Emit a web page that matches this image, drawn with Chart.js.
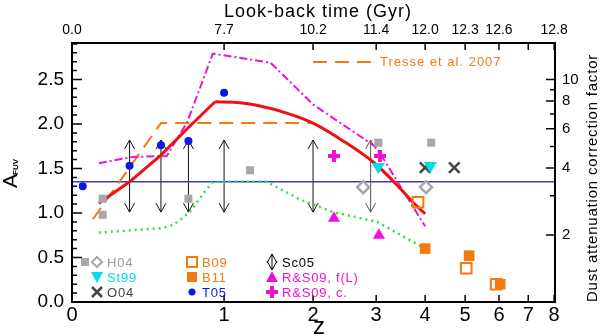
<!DOCTYPE html>
<html>
<head>
<meta charset="utf-8">
<script src="https://cdn.jsdelivr.net/npm/chart.js@4.4.0/dist/chart.umd.min.js"></script>
<style>
  html, body { margin: 0; padding: 0; background: #fff; }
  #contenedor { width: 600px; height: 336px; }
</style>
</head>
<body>
<div id="contenedor"><canvas id="grafico" width="600" height="336"></canvas></div>
<script>
// Ejes
const zTicks = [0, 1, 2, 3, 4, 5, 6, 7, 8];
const lookbackLabels = ['0.0', '7.7', '10.2', '11.4', '12.0', '12.3', '12.6', '', '12.8'];
const aTicks = [0, 0.5, 1.0, 1.5, 2.0, 2.5];
const factorTicks = [2, 4, 6, 8, 10];
const factorMinor = [1, 3, 5, 7, 9];

// Ajuste (linea roja): tramo que sube y tramo que baja
const subidaZ = [0.13, 0.3, 0.5, 0.7, 0.92];
const subidaA = [1.11, 1.35, 1.65, 1.96, 2.25];
const bajadaZ = [0.92, 1.15, 1.32, 1.67, 2.0, 2.44, 2.95, 3.32, 3.73, 4.0];
const bajadaA = [2.25, 2.24, 2.21, 2.12, 2.01, 1.81, 1.57, 1.36, 1.12, 0.99];

// Tresse et al. 2007 (rayas naranjas)
const tresseZ = [0.1, 0.5, 2.0];
const tresseA = [0.93, 2.01, 2.01];

// Linea magenta punto-raya
const magentaZ = [0.13, 0.32, 0.54, 0.69, 0.9, 1.47, 2.0, 3.0, 4.0];
const magentaA = [1.56, 1.63, 1.64, 2.02, 2.79, 2.69, 2.22, 1.74, 0.85];

// Linea verde punteada
const verdeZ = [0.13, 0.51, 0.59, 0.71, 0.82, 0.9, 1.43, 1.83, 2.29, 3.02, 4.0];
const verdeA = [0.78, 0.83, 0.87, 1.01, 1.22, 1.35, 1.35, 1.15, 1.01, 0.90, 0.60];

// Nivel horizontal azul
const nivelA = 1.35;

// Sc05 (flechas dobles)
const sc05Z = [0.3, 0.5, 0.7, 1.0, 2.0, 2.9];
const sc05Min = [1.01, 1.01, 1.01, 1.01, 1.01, 1.01];
const sc05Max = [1.82, 1.82, 1.82, 1.82, 1.82, 1.82];

// Puntos
const t05Z = [0.05, 0.3, 0.5, 0.7, 1.0];
const t05A = [1.30, 1.53, 1.76, 1.81, 2.35];
const h04Z = [0.15, 0.15, 0.7, 1.25, 3.04, 4.14];
const h04A = [1.16, 0.98, 1.16, 1.48, 1.79, 1.79];
const h04RomboZ = [2.77, 4.02];
const h04RomboA = [1.29, 1.29];
const st99Z = [3.04, 4.12];
const st99A = [1.52, 1.53];
const o04Z = [4.0, 4.71];
const o04A = [1.51, 1.51];
const b09Z = [3.84, 5.03, 5.91];
const b09A = [1.12, 0.38, 0.20];
const b11Z = [4.0, 5.11, 6.04];
const b11A = [0.60, 0.52, 0.20];
const rsFlZ = [2.30, 3.05];
const rsFlA = [0.94, 0.75];
const rsCZ = [2.30, 3.07];
const rsCA = [1.64, 1.64];

const X_MAX = 0.956;
const A_MIN = 0;
const A_MAX = 2.91;
const FUENTE = '"Liberation Sans", Arial, sans-serif';

const NARANJA = '#f47a10';
const MAGENTA = '#f010d8';
const CIAN = '#00dcea';
const GRIS = '#a8a8a8';
const GRIS_OSCURO = '#454545';
const AZUL = '#0a18e0';
const ROJO = '#ee1111';

const xDe = z => Math.log10(1 + z);
const puntos = (zs, as) => zs.map((z, i) => ({ x: xDe(z), y: as[i] }));

// Flecha doble vertical
function flechaDoble(ctx, x, yArriba, yAbajo, color) {
  ctx.save();
  ctx.strokeStyle = color;
  ctx.lineWidth = 1;
  ctx.beginPath();
  ctx.moveTo(x, yArriba);
  ctx.lineTo(x, yAbajo);
  ctx.moveTo(x - 5, yArriba + 9);
  ctx.lineTo(x, yArriba);
  ctx.lineTo(x + 5, yArriba + 9);
  ctx.moveTo(x - 5, yAbajo - 9);
  ctx.lineTo(x, yAbajo);
  ctx.lineTo(x + 5, yAbajo - 9);
  ctx.stroke();
  ctx.restore();
}

function marcadorLeyenda(ctx, tipo, x, y, color) {
  ctx.save();
  ctx.fillStyle = color;
  ctx.strokeStyle = color;
  ctx.beginPath();
  switch (tipo) {
    case 'cuadrado':
      ctx.fillRect(x - 4, y - 4, 8, 8);
      break;
    case 'cuadradoGrande':
      ctx.fillRect(x - 5, y - 5, 10, 10);
      break;
    case 'cuadradoAbierto':
      ctx.lineWidth = 2;
      ctx.strokeRect(x - 5, y - 5, 10, 10);
      break;
    case 'rombo':
      ctx.lineWidth = 2;
      ctx.moveTo(x - 5, y); ctx.lineTo(x, y - 5); ctx.lineTo(x + 5, y); ctx.lineTo(x, y + 5);
      ctx.closePath(); ctx.stroke();
      break;
    case 'trianguloAbajo':
      ctx.moveTo(x - 6, y - 5); ctx.lineTo(x + 6, y - 5); ctx.lineTo(x, y + 6);
      ctx.closePath(); ctx.fill();
      break;
    case 'trianguloArriba':
      ctx.moveTo(x - 6, y + 5); ctx.lineTo(x + 6, y + 5); ctx.lineTo(x, y - 6);
      ctx.closePath(); ctx.fill();
      break;
    case 'equis':
      ctx.lineWidth = 2.5;
      ctx.moveTo(x - 5, y - 5); ctx.lineTo(x + 5, y + 5);
      ctx.moveTo(x + 5, y - 5); ctx.lineTo(x - 5, y + 5);
      ctx.stroke();
      break;
    case 'punto':
      ctx.arc(x, y, 3.5, 0, 2 * Math.PI);
      ctx.fill();
      break;
    case 'mas':
      ctx.lineWidth = 4;
      ctx.moveTo(x - 6, y); ctx.lineTo(x + 6, y);
      ctx.moveTo(x, y - 6); ctx.lineTo(x, y + 6);
      ctx.stroke();
      break;
    case 'flecha':
      ctx.restore();
      flechaDoble(ctx, x, y - 8, y + 8, color);
      return;
  }
  ctx.restore();
}

function texto(ctx, t, x, y, opts) {
  ctx.save();
  ctx.font = opts.font;
  ctx.fillStyle = opts.color || '#000';
  ctx.textAlign = opts.align || 'left';
  ctx.textBaseline = opts.baseline || 'middle';
  if ('letterSpacing' in ctx) ctx.letterSpacing = (opts.spacing || 0) + 'px';
  if (opts.rot) {
    ctx.translate(x, y);
    ctx.rotate(opts.rot);
    ctx.fillText(t, 0, 0);
  } else {
    ctx.fillText(t, x, y);
  }
  ctx.restore();
}

// Flechas Sc05 detras de los datos
const flechas = {
  id: 'flechas',
  beforeDatasetsDraw(chart) {
    const { ctx, scales } = chart;
    sc05Z.forEach((z, i) => {
      const px = scales.x.getPixelForValue(xDe(z));
      flechaDoble(ctx, px, scales.y.getPixelForValue(sc05Max[i]),
        scales.y.getPixelForValue(sc05Min[i]), i === 5 ? '#555' : '#111');
    });
  }
};

// Marco y marcas hacia dentro
const marco = {
  id: 'marco',
  afterDatasetsDraw(chart) {
    const { ctx, chartArea: a, scales } = chart;
    ctx.save();
    ctx.strokeStyle = '#000';
    ctx.lineWidth = 1.5;
    ctx.beginPath();
    zTicks.forEach(z => {
      const px = scales.x.getPixelForValue(xDe(z));
      ctx.moveTo(px, a.bottom); ctx.lineTo(px, a.bottom - 7);
      ctx.moveTo(px, a.top); ctx.lineTo(px, a.top + 7);
    });
    for (let k = 0; k <= 29; k++) {
      const v = k / 10;
      if (v > A_MAX) break;
      const py = scales.y.getPixelForValue(v);
      const largo = k % 5 === 0 ? 10 : 5;
      ctx.moveTo(a.left, py); ctx.lineTo(a.left + largo, py);
    }
    factorTicks.forEach(f => {
      const py = scales.y2.getPixelForValue(2.5 * Math.log10(f));
      ctx.moveTo(a.right, py); ctx.lineTo(a.right - 9, py);
    });
    factorMinor.forEach(f => {
      const py = scales.y2.getPixelForValue(2.5 * Math.log10(f));
      ctx.moveTo(a.right, py); ctx.lineTo(a.right - (f === 1 ? 9 : 5), py);
    });
    ctx.stroke();
    ctx.lineWidth = 2;
    ctx.strokeRect(a.left, a.top, a.right - a.left, a.bottom - a.top);
    ctx.restore();
  }
};

// Titulos de ejes y leyendas
const textos = {
  id: 'textos',
  afterDraw(chart) {
    const ctx = chart.ctx;
    texto(ctx, 'Look-back time (Gyr)', 318, 12, { font: '18px ' + FUENTE, align: 'center', spacing: 1 });
    texto(ctx, 'z', 319, 334, { font: '24px ' + FUENTE, align: 'center', baseline: 'alphabetic' });
    texto(ctx, 'Dust attenuation correction factor', 593, 178,
      { font: '15px ' + FUENTE, align: 'center', spacing: 0.8, rot: -Math.PI / 2 });
    // A_FUV
    ctx.save();
    ctx.translate(17, 188);
    ctx.rotate(-Math.PI / 2);
    ctx.fillStyle = '#000';
    ctx.textBaseline = 'alphabetic';
    ctx.textAlign = 'left';
    ctx.font = '21px ' + FUENTE;
    ctx.fillText('A', 0, 0);
    ctx.font = 'bold 8px ' + FUENTE;
    ctx.fillText('FUV', 13, 1);
    ctx.restore();

    // Tresse et al. 2007
    ctx.save();
    ctx.strokeStyle = NARANJA;
    ctx.lineWidth = 2;
    ctx.setLineDash([14, 8]);
    ctx.beginPath();
    ctx.moveTo(313, 62); ctx.lineTo(374, 62);
    ctx.stroke();
    ctx.restore();
    texto(ctx, 'Tresse et al. 2007', 380, 62, { font: '13px ' + FUENTE, color: NARANJA, spacing: 1 });

    // Leyenda inferior
    const filas = [262, 277, 292];
    const leyenda = [
      { x: 97, fila: 0, tipo: 'rombo', color: GRIS, txt: 'H04', extra: 'cuadrado' },
      { x: 97, fila: 1, tipo: 'trianguloAbajo', color: CIAN, txt: 'St99' },
      { x: 97, fila: 2, tipo: 'equis', color: GRIS_OSCURO, txt: 'O04' },
      { x: 192, fila: 0, tipo: 'cuadradoAbierto', color: NARANJA, txt: 'B09' },
      { x: 192, fila: 1, tipo: 'cuadradoGrande', color: NARANJA, txt: 'B11' },
      { x: 192, fila: 2, tipo: 'punto', color: AZUL, txt: 'T05' },
      { x: 272, fila: 0, tipo: 'flecha', color: '#000', txt: 'Sc05' },
      { x: 272, fila: 1, tipo: 'trianguloArriba', color: MAGENTA, txt: 'R&S09, f(L)' },
      { x: 272, fila: 2, tipo: 'mas', color: MAGENTA, txt: 'R&S09, c.' }
    ];
    leyenda.forEach(e => {
      const y = filas[e.fila];
      if (e.extra) marcadorLeyenda(ctx, e.extra, 85, y, e.color);
      marcadorLeyenda(ctx, e.tipo, e.x, y, e.color);
      texto(ctx, e.txt, e.x + 10, y + 1, { font: '13px ' + FUENTE, color: e.color === GRIS ? '#9a9a9a' : e.color, spacing: 0.8 });
    });
  }
};

function linea(label, zs, as, color, ancho, dash, orden, suave) {
  return {
    label: label, data: puntos(zs, as), showLine: true, fill: false, tension: 0,
    cubicInterpolationMode: suave ? 'monotone' : 'default',
    borderColor: color, borderWidth: ancho, borderDash: dash, pointRadius: 0, order: orden
  };
}

function marcas(label, zs, as, estilo, radio, opts) {
  return Object.assign({
    label: label, data: puntos(zs, as), showLine: false,
    pointStyle: estilo, pointRadius: radio, order: 1
  }, opts);
}

const ejeZ = (posicion, alto, etiquetas, tam, pad) => ({
  type: 'linear', position: posicion, min: 0, max: X_MAX,
  afterBuildTicks: s => { s.ticks = zTicks.map(z => ({ value: xDe(z) })); },
  afterFit: s => { s.height = alto; },
  ticks: {
    callback: (v, i) => etiquetas[i], autoSkip: false, maxRotation: 0,
    font: { family: FUENTE, size: tam }, color: '#000', padding: pad
  },
  grid: { display: false, drawTicks: false }, border: { display: false }
});

const ctx = document.getElementById('grafico').getContext('2d');
window.graficoAfuv = new Chart(ctx, {
  type: 'scatter',
  data: {
    datasets: [
      marcas('T05', t05Z, t05A, 'circle', 4, { backgroundColor: AZUL, borderWidth: 0 }),
      marcas('H04', h04Z, h04A, 'rect', 5.7, { backgroundColor: GRIS, borderWidth: 0 }),
      marcas('H04 rombo', h04RomboZ, h04RomboA, 'rectRot', 6, { backgroundColor: 'rgba(0,0,0,0)', borderColor: GRIS, borderWidth: 2.5 }),
      marcas('St99', st99Z, st99A, 'triangle', 7.5, { backgroundColor: CIAN, borderWidth: 0, rotation: 180 }),
      marcas('O04', o04Z, o04A, 'crossRot', 7.5, { borderColor: GRIS_OSCURO, borderWidth: 2.5 }),
      marcas('B09', b09Z, b09A, 'rect', 7.5, { backgroundColor: 'rgba(0,0,0,0)', borderColor: NARANJA, borderWidth: 2 }),
      marcas('B11', b11Z, b11A, 'rect', 7.5, { backgroundColor: NARANJA, borderWidth: 0 }),
      marcas('R&S09, f(L)', rsFlZ, rsFlA, 'triangle', 7, { backgroundColor: MAGENTA, borderWidth: 0 }),
      marcas('R&S09, c.', rsCZ, rsCA, 'cross', 6, { borderColor: MAGENTA, borderWidth: 4 }),
      linea('ajuste subida', subidaZ, subidaA, ROJO, 3, [], 5, false),
      linea('ajuste bajada', bajadaZ, bajadaA, ROJO, 3, [], 5, true),
      linea('magenta', magentaZ, magentaA, MAGENTA, 2, [8, 3, 2, 3], 6, false),
      linea('Tresse', tresseZ, tresseA, NARANJA, 2, [14, 8], 7, false),
      linea('verde', verdeZ, verdeA, '#33dd44', 2.5, [2, 4], 8, false),
      {
        label: 'nivel', data: [{ x: 0, y: nivelA }, { x: X_MAX, y: nivelA }],
        showLine: true, borderColor: '#3a3acc', borderWidth: 1.5, pointRadius: 0, order: 9
      }
    ]
  },
  options: {
    responsive: false,
    animation: false,
    devicePixelRatio: 1,
    layout: { padding: 0 },
    plugins: { legend: { display: false }, tooltip: { enabled: false } },
    scales: {
      x: ejeZ('bottom', 34, zTicks.map(String), 20, 1),
      x2: ejeZ('top', 43, lookbackLabels, 14, 4),
      y: {
        type: 'linear', position: 'left', min: A_MIN, max: A_MAX,
        afterBuildTicks: s => { s.ticks = aTicks.map(v => ({ value: v })); },
        afterFit: s => { s.width = 72; },
        ticks: {
          callback: v => v.toFixed(1),
          font: { family: FUENTE, size: 19 }, color: '#000', padding: 8
        },
        grid: { display: false, drawTicks: false }, border: { display: false }
      },
      y2: {
        type: 'linear', position: 'right', min: A_MIN, max: A_MAX,
        afterBuildTicks: s => { s.ticks = factorTicks.map(f => ({ value: 2.5 * Math.log10(f) })); },
        afterFit: s => { s.width = 45; },
        ticks: {
          callback: (v, i) => String(factorTicks[i]),
          font: { family: FUENTE, size: 15 }, color: '#000', padding: 7
        },
        grid: { display: false, drawTicks: false }, border: { display: false }
      }
    }
  },
  plugins: [flechas, marco, textos]
});
</script>
</body>
</html>
